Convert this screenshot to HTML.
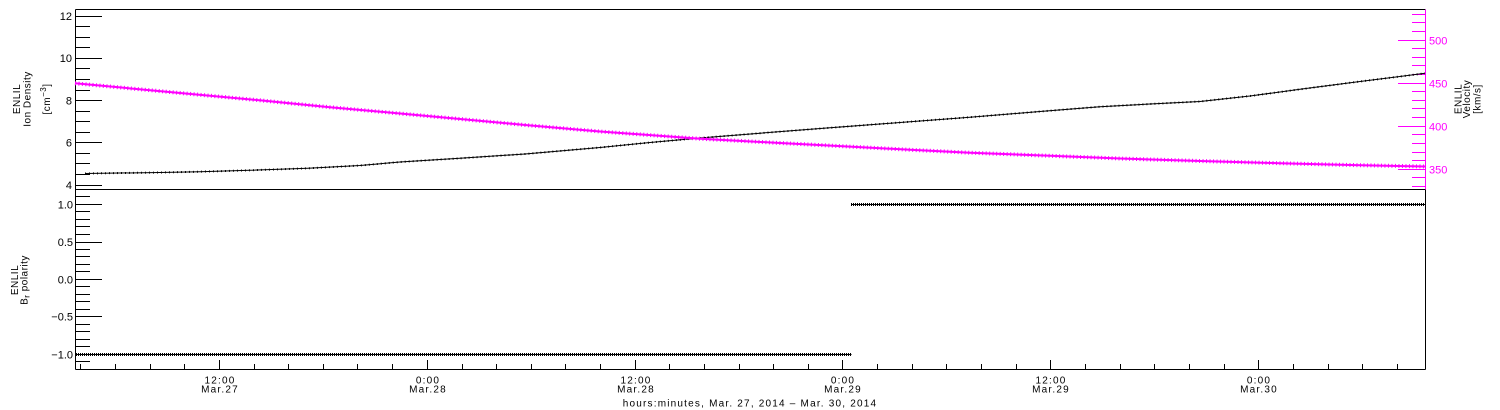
<!DOCTYPE html>
<html>
<head>
<meta charset="utf-8">
<style>
  html,body{margin:0;padding:0;background:#fff;}
  svg{display:block;}
  text{font-family:"Liberation Sans",sans-serif;}
</style>
</head>
<body>
<svg width="1500" height="410" viewBox="0 0 1500 410" xmlns="http://www.w3.org/2000/svg">
  <rect x="0" y="0" width="1500" height="410" fill="#fff"/>

  <!-- Frames -->
  <path d="M75.5 9.5H1425.5 M75.5 9.5V369.5 M75.5 189.5H1425.5 M75.5 369.5H1425.5 M1425.5 189.5V369.5" stroke="#000" stroke-width="1" fill="none"/>
  <path d="M1425.5 9.5V189.5" stroke="#ff00ff" stroke-width="1" fill="none"/>

  <!-- Top-left ticks -->
  <path d="M75 185.5h27 M75 142.5h27 M75 100.5h27 M75 58.5h27 M75 16.5h27" stroke="#000" stroke-width="1"/>
  <path d="M75 174.5h15 M75 163.5h15 M75 153.5h15 M75 132.5h15 M75 121.5h15 M75 111.5h15 M75 90.5h15 M75 79.5h15 M75 68.5h15 M75 47.5h15 M75 37.5h15 M75 26.5h15" stroke="#000" stroke-width="1"/>

  <!-- Bottom-left ticks -->
  <path d="M75 204.5h27 M75 242.5h27 M75 279.5h27 M75 316.5h27 M75 354.5h27" stroke="#000" stroke-width="1"/>
  <path d="M75 196.5h15 M75 211.5h15 M75 219.5h15 M75 226.5h15 M75 234.5h15 M75 249.5h15 M75 256.5h15 M75 264.5h15 M75 271.5h15 M75 286.5h15 M75 294.5h15 M75 301.5h15 M75 309.5h15 M75 324.5h15 M75 331.5h15 M75 339.5h15 M75 346.5h15 M75 361.5h15" stroke="#000" stroke-width="1"/>

  <!-- Right ticks (magenta) -->
  <path d="M1398 40.5h27 M1398 83.5h27 M1398 126.5h27 M1398 169.5h27" stroke="#ff00ff" stroke-width="1"/>
  <path d="M1412 14.5h13 M1412 22.5h13 M1412 31.5h13 M1412 48.5h13 M1412 57.5h13 M1412 65.5h13 M1412 74.5h13 M1412 91.5h13 M1412 100.5h13 M1412 108.5h13 M1412 117.5h13 M1412 134.5h13 M1412 143.5h13 M1412 152.5h13 M1412 160.5h13 M1412 177.5h13 M1412 186.5h13" stroke="#ff00ff" stroke-width="1"/>

  <!-- X ticks -->
  <path d="M219.5 360v9 M427.5 360v9 M635.5 360v9 M842.5 360v9 M1050.5 360v9 M1258.5 360v9" stroke="#000" stroke-width="1"/>
  <path d="M80.5 364v5 M115.5 364v5 M150.5 364v5 M184.5 364v5 M254.5 364v5 M288.5 364v5 M323.5 364v5 M357.5 364v5 M392.5 364v5 M462.5 364v5 M496.5 364v5 M531.5 364v5 M565.5 364v5 M600.5 364v5 M669.5 364v5 M704.5 364v5 M739.5 364v5 M773.5 364v5 M808.5 364v5 M877.5 364v5 M912.5 364v5 M946.5 364v5 M981.5 364v5 M1016.5 364v5 M1085.5 364v5 M1120.5 364v5 M1154.5 364v5 M1189.5 364v5 M1224.5 364v5 M1293.5 364v5 M1328.5 364v5 M1362.5 364v5 M1397.5 364v5" stroke="#000" stroke-width="1"/>

  <!-- Top-left tick labels -->
  <g font-size="11" text-anchor="end" fill="#000">
    <text x="72" y="20">12</text>
    <text x="72" y="62">10</text>
    <text x="72" y="104.5">8</text>
    <text x="72" y="146.5">6</text>
    <text x="72" y="189">4</text>
  </g>
  <!-- Bottom-left tick labels -->
  <g font-size="11" text-anchor="end" fill="#000">
    <text x="73" y="208.5">1.0</text>
    <text x="73" y="246">0.5</text>
    <text x="73" y="283.5">0.0</text>
    <text x="73" y="320.5">−0.5</text>
    <text x="73" y="358.5">−1.0</text>
  </g>
  <!-- Right tick labels -->
  <g font-size="11" fill="#ff00ff">
    <text x="1429" y="44.5">500</text>
    <text x="1429" y="87.5">450</text>
    <text x="1429" y="130.5">400</text>
    <text x="1429" y="173.5">350</text>
  </g>

  <!-- X labels -->
  <g font-size="10" text-anchor="middle" fill="#000" letter-spacing="1.2">
    <text x="220" y="383.5">12:00</text><text x="220" y="392.5">Mar.27</text>
    <text x="428" y="383.5">0:00</text><text x="428" y="392.5">Mar.28</text>
    <text x="636" y="383.5">12:00</text><text x="636" y="392.5">Mar.28</text>
    <text x="843" y="383.5">0:00</text><text x="843" y="392.5">Mar.29</text>
    <text x="1051" y="383.5">12:00</text><text x="1051" y="392.5">Mar.29</text>
    <text x="1259" y="383.5">0:00</text><text x="1259" y="392.5">Mar.30</text>
    <text x="750" y="406.5">hours:minutes, Mar. 27, 2014 – Mar. 30, 2014</text>
  </g>

  <!-- Y axis titles -->
  <g font-size="10" text-anchor="middle" fill="#000" letter-spacing="0.5">
    <text transform="translate(20,99) rotate(-90)">ENLIL</text>
    <text transform="translate(30.5,99) rotate(-90)">Ion Density</text>
    <text transform="translate(50,99) rotate(-90)">[cm<tspan dy="-4" font-size="8">−3</tspan><tspan dy="4">]</tspan></text>

    <text transform="translate(1461.5,99) rotate(-90)">ENLIL</text>
    <text transform="translate(1470,99) rotate(-90)">Velocity</text>
    <text transform="translate(1480.5,99) rotate(-90)">[km/s]</text>

    <text transform="translate(18,280) rotate(-90)">ENLIL</text>
    <text transform="translate(27.5,280) rotate(-90)">B<tspan dy="2" font-size="8">r</tspan><tspan dy="-2"> polarity</tspan></text>
  </g>

  <!-- Density (black) -->
  <g fill="none" stroke="#000">
    <polyline stroke-width="1" points="85,173.5 160,172.5 200,171.7 250,170.3 308,168.3 360,165.5 400,162 460,158.3 525,154 600,147.5 650,142.5 700,138 760,133.2 830,127.8 900,122.5 970,117.2 1040,111.5 1100,106.7 1150,104 1200,101.5 1250,96 1300,89.3 1360,81.5 1425,73.3"/>
    <polyline stroke-width="2" stroke-dasharray="1 3" points="85,173.5 160,172.5 200,171.7 250,170.3 308,168.3 360,165.5 400,162 460,158.3 525,154 600,147.5 650,142.5 700,138 760,133.2 830,127.8 900,122.5 970,117.2 1040,111.5 1100,106.7 1150,104 1200,101.5 1250,96 1300,89.3 1360,81.5 1425,73.3"/>
  </g>

  <!-- Velocity (magenta) -->
  <g fill="none" stroke="#ff00ff">
    <polyline stroke-width="2" points="75,83.3 150,90.2 262,100.5 330,107.2 400,113.5 460,119 525,125 600,131.5 700,138.7 780,143 850,146.6 910,149.8 970,152.7 1050,155.8 1120,158.5 1200,161 1280,163.2 1350,165 1425,166.5"/>
    <polyline stroke-width="4" stroke-dasharray="1 2.5" points="75,83.3 150,90.2 262,100.5 330,107.2 400,113.5 460,119 525,125 600,131.5 700,138.7 780,143 850,146.6 910,149.8 970,152.7 1050,155.8 1120,158.5 1200,161 1280,163.2 1350,165 1425,166.5"/>
  </g>

  <!-- Br polarity (black) -->
  <g fill="none" stroke="#000">
    <path d="M76 354.5H851.5 M851 204.5H1425" stroke-width="1"/>
    <path d="M76 354.5H851.5 M851 204.5H1425" stroke-width="3" stroke-dasharray="1 1"/>
  </g>
</svg>
</body>
</html>
